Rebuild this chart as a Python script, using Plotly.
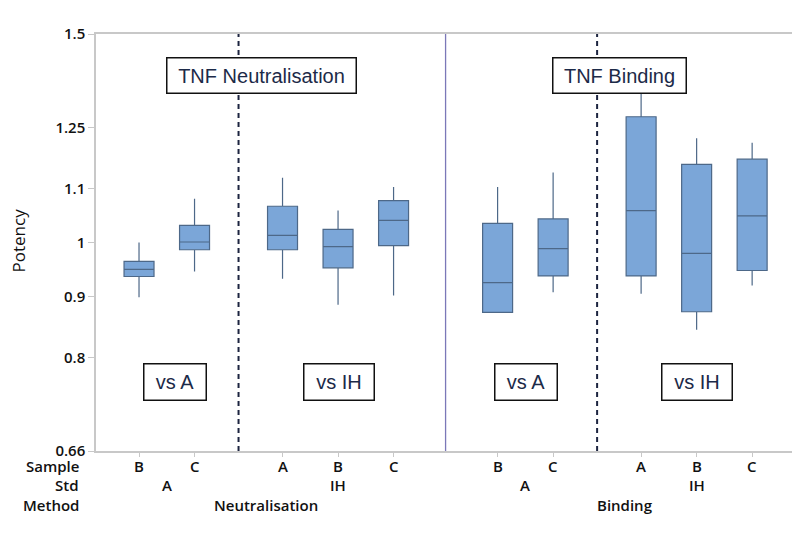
import math
import plotly.graph_objects as go

# ---- data ----
methods = ["Neutralisation", "Neutralisation", "Neutralisation", "Neutralisation", "Neutralisation",
           "Binding", "Binding", "Binding", "Binding", "Binding"]
stds = ["A", "A", "IH", "IH", "IH", "A", "A", "IH", "IH", "IH"]
samples = ["B", "C", "A", "B", "C", "B", "C", "A", "B", "C"]
lower_whisker = [0.899, 0.945, 0.932, 0.886, 0.902, 0.872, 0.908, 0.905, 0.844, 0.920]
q1_vals = [0.936, 0.986, 0.986, 0.952, 0.994, 0.873, 0.937, 0.937, 0.874, 0.947]
median_vals = [0.949, 1.001, 1.014, 0.992, 1.044, 0.925, 0.988, 1.064, 0.979, 1.053]
q3_vals = [0.964, 1.034, 1.073, 1.026, 1.085, 1.038, 1.047, 1.277, 1.164, 1.176]
upper_whisker = [1.000, 1.089, 1.134, 1.064, 1.114, 1.114, 1.146, 1.349, 1.225, 1.214]

ytick_vals = [1 / 1.5, 0.8, 0.9, 1.0, 1 / 0.9, 1.25, 1.5]
ytick_text = ["0.66", "0.8", "0.9", "1", "1.1", "1.25", "1.5"]
ref_dashed = [0.8, 0.9, 1 / 0.9, 1.25]
ref_solid = [1.0]

# ---- positions from group structure ----
std_gap = 1.585
method_gap = 1.874
pos = []
x = 0.0
for i in range(len(samples)):
    if i > 0:
        if methods[i] != methods[i - 1]:
            x += method_gap
        elif stds[i] != stds[i - 1]:
            x += std_gap
        else:
            x += 1
    pos.append(x)


def groups(keys):
    out = []
    for i, k in enumerate(keys):
        if out and out[-1][0] == k:
            out[-1][1].append(pos[i])
        else:
            out.append([k, [pos[i]]])
    return out


std_groups = groups([m + "|" + s for m, s in zip(methods, stds)])
method_groups = groups(methods)

fig = go.Figure()
for i in range(len(samples)):
    fig.add_trace(go.Box(
        x=[pos[i]], q1=[q1_vals[i]], median=[median_vals[i]], q3=[q3_vals[i]],
        lowerfence=[lower_whisker[i]], upperfence=[upper_whisker[i]],
        width=0.54, fillcolor="#7ba6d8",
        line=dict(color="#4d6888", width=1.2),
        whiskerwidth=0, boxpoints=False, showlegend=False, hoverinfo="skip"))

shapes = []
for v in ref_dashed:
    shapes.append(dict(type="line", xref="paper", x0=0, x1=1, yref="y", y0=math.log10(v), y1=math.log10(v),
                       line=dict(color="#dc5a68", width=1.4, dash="12px,7px"), layer="below"))
for v in ref_solid:
    shapes.append(dict(type="line", xref="paper", x0=0, x1=1, yref="y", y0=math.log10(v), y1=math.log10(v),
                       line=dict(color="#e0525a", width=1.3), layer="below"))

# separators between groups
for gi in range(1, len(std_groups)):
    prev = std_groups[gi - 1][1][-1]
    cur = std_groups[gi][1][0]
    mid = (prev + cur) / 2
    m_prev = std_groups[gi - 1][0].split("|")[0]
    m_cur = std_groups[gi][0].split("|")[0]
    if m_prev != m_cur:
        shapes.append(dict(type="line", xref="x", x0=mid, x1=mid, yref="paper", y0=0, y1=1,
                           line=dict(color="#7b78b8", width=1.3)))
    else:
        shapes.append(dict(type="line", xref="x", x0=mid, x1=mid, yref="paper", y0=0, y1=1,
                           line=dict(color="#1c2440", width=2, dash="5px,4px")))

lab_font = dict(size=15, color="#111", family="Open Sans", weight=600)
annotations = []
for txt, yy in [("Sample", -0.037), ("Std", -0.082), ("Method", -0.129)]:
    annotations.append(dict(text=txt, xref="paper", yref="paper", x=-0.022, y=yy, xanchor="right",
                            yanchor="middle", showarrow=False, font=lab_font))
for p, s in zip(pos, samples):
    annotations.append(dict(text=s, xref="x", yref="paper", x=p, y=-0.037,
                            yanchor="middle", showarrow=False, font=lab_font))
for k, ps in std_groups:
    annotations.append(dict(text=k.split("|")[1], xref="x", yref="paper", x=sum(ps) / len(ps), y=-0.082,
                            yanchor="middle", showarrow=False, font=lab_font))
for k, ps in method_groups:
    annotations.append(dict(text=k, xref="x", yref="paper", x=(ps[0] + ps[-1]) / 2, y=-0.129,
                            yanchor="middle", showarrow=False, font=lab_font))
annotations.append(dict(text="Potency", xref="paper", yref="paper", x=-0.1105, y=0.504, textangle=-90,
                        showarrow=False, xanchor="center", yanchor="middle",
                        font=dict(size=17, color="#111", family="Open Sans")))

box_font = dict(size=20, color="#1c2a48", family="Liberation Sans")
title_specs = [("TNF Neutralisation", 182, -0.09), ("TNF Binding", 126, -0.1)]
for (txt, w, off), (k, ps) in zip(title_specs, method_groups):
    annotations.append(dict(text=txt, xref="x", yref="paper", x=(ps[0] + ps[-1]) / 2 + off,
                            y=0.944, showarrow=False, font=box_font, bordercolor="#111", borderwidth=1.5,
                            borderpad=3, width=w, height=28, bgcolor="white"))
vs_offsets = [0.14, 0.02, 0.02, 0.0]
for (k, ps), off in zip(std_groups, vs_offsets):
    lab = "vs " + k.split("|")[1]
    annotations.append(dict(text=lab, xref="x", yref="paper", x=sum(ps) / len(ps) + off, y=0.12,
                            showarrow=False, font=box_font, bordercolor="#111", borderwidth=1.5,
                            borderpad=3, width=55 if k.endswith("A") else 63, height=29, bgcolor="white"))

# page body has an 8px margin, so the figure is shrunk by 8px and margins offset accordingly
fig.update_layout(
    width=792, height=532,
    margin=dict(l=88, r=4, t=26, b=89),
    plot_bgcolor="white", paper_bgcolor="white",
    shapes=shapes, annotations=annotations,
    font=dict(family="Open Sans", color="#111"),
    xaxis=dict(range=[-0.775, pos[-1] + 0.79], tickvals=pos, showticklabels=False, automargin=False,
               showgrid=False, zeroline=False, showline=True, linecolor="#c8c8c8", linewidth=1.5,
               mirror=True, ticks="outside", ticklen=4, tickcolor="#c8c8c8"),
    yaxis=dict(type="log", range=[math.log10(1 / 1.5), math.log10(1.5)],
               tickvals=ytick_vals, ticktext=ytick_text, automargin=False,
               tickfont=lab_font,
               showgrid=False, zeroline=False, showline=True, linecolor="#c8c8c8", linewidth=1.5,
               mirror=True, ticks="outside", ticklen=6, tickcolor="#c8c8c8"),
)

fig.write_html("out.html")
